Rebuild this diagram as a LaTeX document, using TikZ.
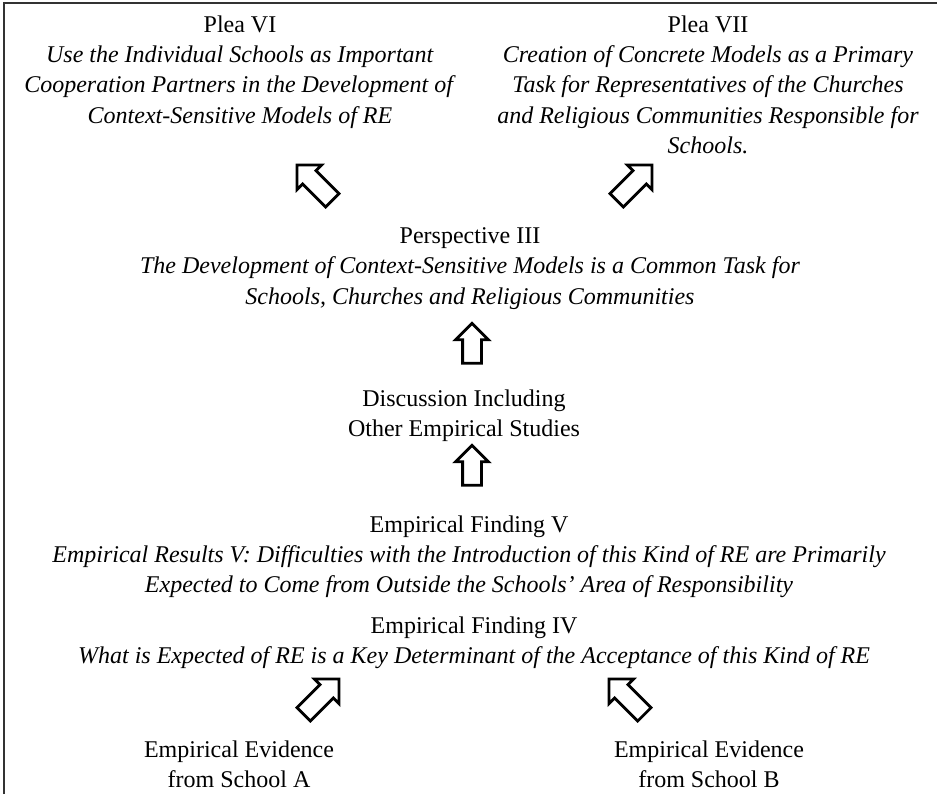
\documentclass[tikz,border=0pt]{standalone}
\usepackage{fontspec}
\setmainfont{Liberation Serif}
\usetikzlibrary{shapes.arrows}

\begin{document}
\begin{tikzpicture}[x=0.5pt,y=-0.5pt,
  txt/.style={anchor=north,inner sep=0pt,align=center,font=\fontsize{12}{15.2}\selectfont},
  blockarrow/.style={single arrow,draw,line width=1.4pt,fill=white,inner sep=4pt,
    minimum width=15pt,minimum height=20pt,single arrow head extend=3.5pt,single arrow tip angle=90},
  slantarrow/.style={blockarrow,minimum width=16pt,minimum height=25pt,single arrow head extend=4pt}]
\useasboundingbox (0,0) rectangle (937,794);
% Frame
\draw[line width=0.7pt,black!80] (4,794) -- (4,3) -- (937,3);
% Pleas
\node[txt] (plea6) at (240,15) {Plea VI\\ \textit{Use the Individual Schools as Important}\\ \textit{Cooperation Partners in the Development of}\\ \textit{Context-Sensitive Models of RE}};
\node[txt] (plea7) at (708,15) {Plea VII\\ \textit{Creation of Concrete Models as a Primary}\\ \textit{Task for Representatives of the Churches}\\ \textit{and Religious Communities Responsible for}\\ \textit{Schools.}};
% Perspective and discussion
\node[txt] (persp) at (470,227) {Perspective III\\ \textit{The Development of Context-Sensitive Models is a Common Task for}\\ \textit{Schools, Churches and Religious Communities}};
\node[txt] (disc) at (464,389) {Discussion Including\\ Other Empirical Studies};
% Empirical findings
\node[txt] (find5) at (469,515) {Empirical Finding V\\ \textit{Empirical Results V: Difficulties with the Introduction of this Kind of RE are Primarily}\\ \textit{Expected to Come from Outside the Schools' Area of Responsibility}};
\node[txt] (find4) at (474,616) {Empirical Finding IV\\ \textit{What is Expected of RE is a Key Determinant of the Acceptance of this Kind of RE}};
% Evidence
\node[txt] (evidA) at (239,740) {Empirical Evidence\\ from School A};
\node[txt] (evidB) at (709,740) {Empirical Evidence\\ from School B};
% Arrows
\node[slantarrow,rotate=135] (arrA) at (318,186) {};
\node[slantarrow,rotate=45] (arrB) at (631,186) {};
\node[blockarrow,rotate=90] (arrC) at (472,348) {};
\node[blockarrow,rotate=90] (arrD) at (472,470) {};
\node[slantarrow,rotate=45] (arrE) at (318,700) {};
\node[slantarrow,rotate=135] (arrF) at (630,700) {};
\end{tikzpicture}
\end{document}
